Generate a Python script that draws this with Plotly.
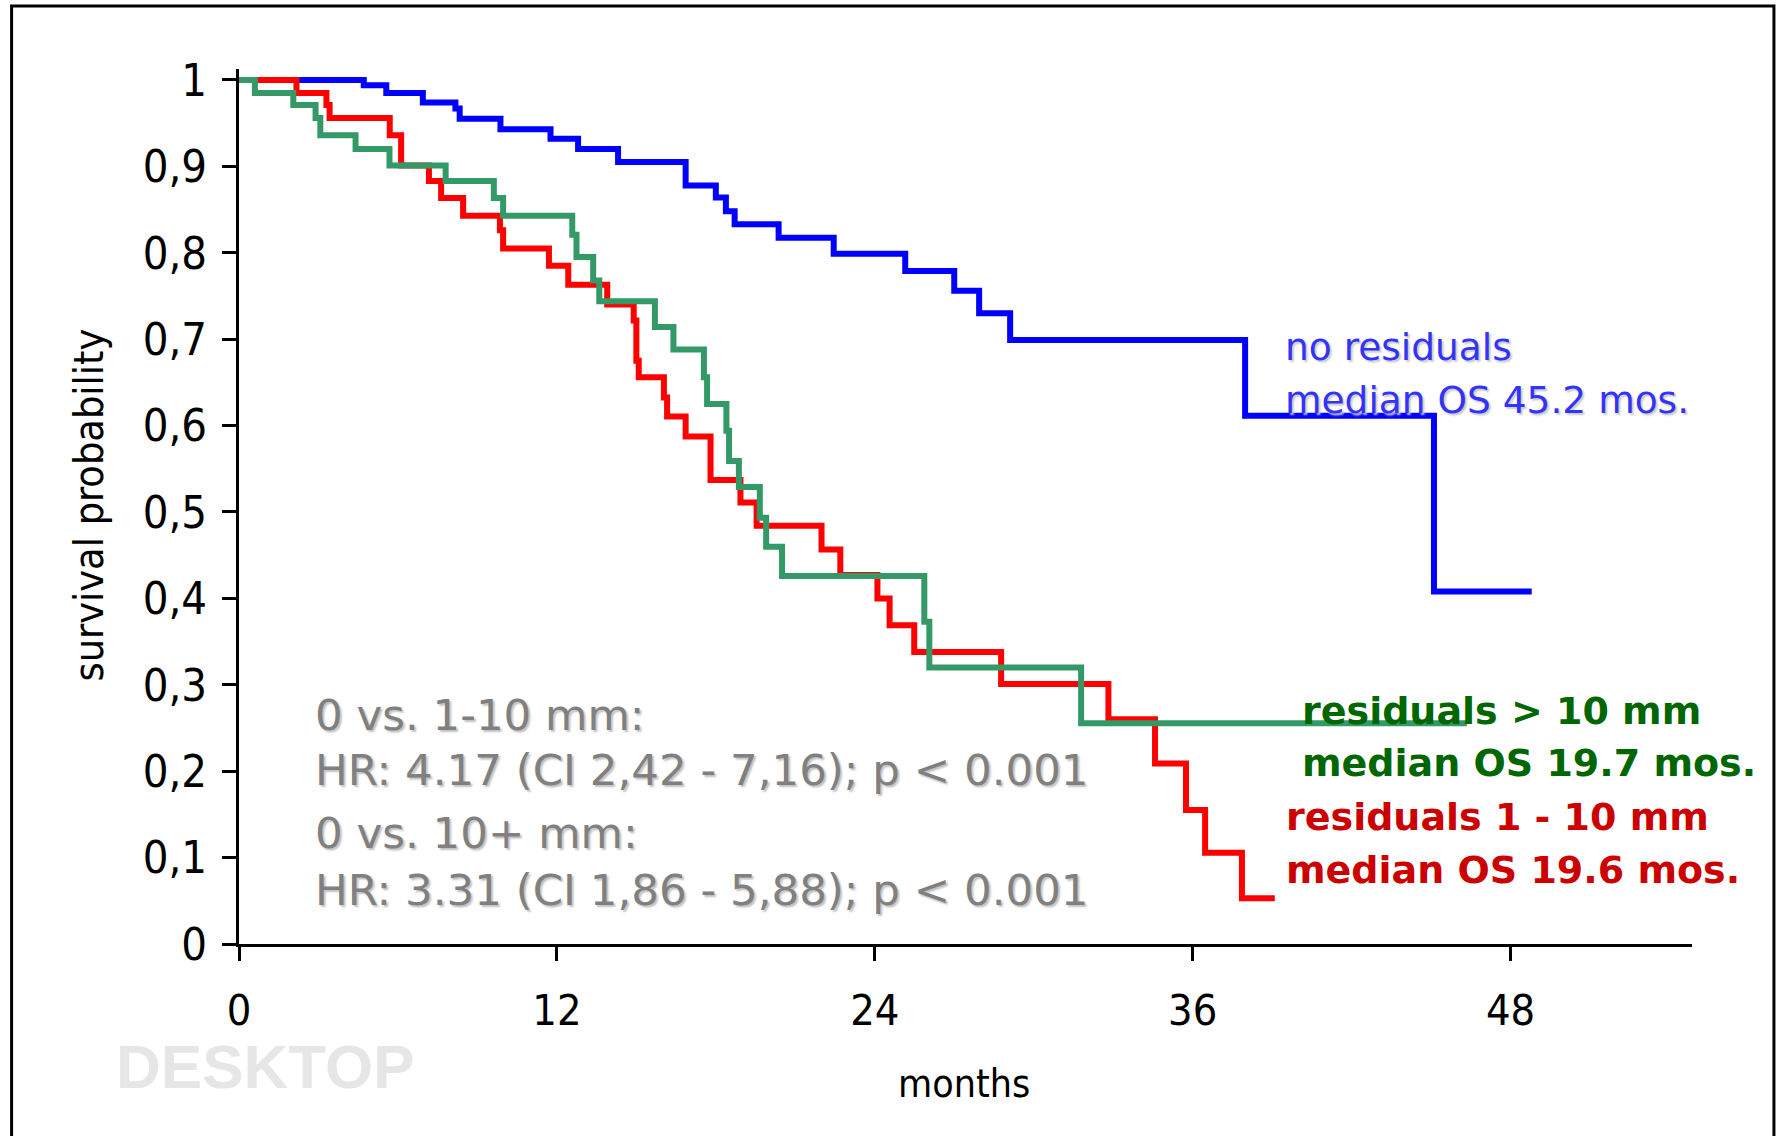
import plotly.graph_objects as go

# ---------------- data ----------------
months_none = [0, 4.71, 5.56, 6.94, 8.17, 8.33, 9.87, 11.76, 12.8, 14.31, 16.86, 18.0, 18.38, 18.71,
               20.37, 22.45, 25.15, 27.0, 27.94, 29.11, 37.98, 45.11, 48.8]
surv_none = [1.0, 0.994, 0.985, 0.974, 0.967, 0.955, 0.943, 0.932, 0.920, 0.905, 0.878, 0.864, 0.848, 0.833,
             0.8175, 0.799, 0.779, 0.756, 0.730, 0.699, 0.6115, 0.408, 0.408]

months_1_10 = [0, 2.17, 3.30, 3.42, 5.69, 6.12, 7.17, 7.63, 8.46, 9.85, 9.97, 11.7, 12.43, 13.9, 14.9,
               15.0, 15.09, 16.04, 16.16, 16.86, 17.8, 18.93, 19.54, 21.99, 22.7, 24.1, 24.56, 25.49,
               28.77, 32.82, 34.58, 35.75, 36.47, 37.86, 39.1]
surv_1_10 = [1.0, 0.985, 0.971, 0.956, 0.936, 0.901, 0.883, 0.8635, 0.843, 0.826, 0.805, 0.785, 0.763, 0.740,
             0.7216, 0.675, 0.656, 0.6326, 0.6106, 0.5874, 0.537, 0.511, 0.484, 0.4567, 0.427, 0.400, 0.369,
             0.338, 0.301, 0.260, 0.209, 0.155, 0.1057, 0.053, 0.053]

months_10p = [0, 0.6, 2.05, 2.89, 3.07, 4.4, 5.68, 7.8, 9.62, 9.97, 12.58, 12.74, 13.37, 13.6, 15.7, 16.4,
              17.55, 17.67, 18.4, 18.5, 18.87, 19.66, 19.9, 20.5, 25.87, 26.06, 31.79, 46.35]
surv_10p = [1.0, 0.985, 0.971, 0.956, 0.936, 0.920, 0.901, 0.883, 0.8635, 0.843, 0.821, 0.795, 0.768, 0.744,
            0.714, 0.688, 0.656, 0.625, 0.594, 0.559, 0.529, 0.4934, 0.4597, 0.4258, 0.373, 0.320, 0.2554,
            0.2554]

x_ticks = [0, 12, 24, 36, 48]
y_ticks = [0, 0.1, 0.2, 0.3, 0.4, 0.5, 0.6, 0.7, 0.8, 0.9, 1]
y_tick_labels = ["0", "0,1", "0,2", "0,3", "0,4", "0,5", "0,6", "0,7", "0,8", "0,9", "1"]

# ---------------- layout geometry (pixels) ----------------
W, H = 1783, 1136
X0_PX, PX_PER_MONTH = 238.5, 26.5
Y0_PX, PX_PER_UNIT = 944.0, 864.0
X_MAX = 54.85
Y_MAX = 1.0127
plot_w = X_MAX * PX_PER_MONTH
plot_h = Y_MAX * PX_PER_UNIT


def pxp(px):
    return (px - X0_PX) / plot_w


def pyp(py):
    return (Y0_PX - py) / plot_h


NARROW = "Liberation Sans Narrow, DejaVu Sans Condensed, Arial Narrow, sans-serif"
SANS = "DejaVu Sans, Verdana, sans-serif"

fig = go.Figure()
fig.add_trace(go.Scatter(x=months_none, y=surv_none, mode="lines", line=dict(shape="hv", color="#0000FF", width=6),
                         name="no residuals", hoverinfo="x+y"))
fig.add_trace(go.Scatter(x=months_1_10, y=surv_1_10, mode="lines", line=dict(shape="hv", color="#FF0000", width=6),
                         name="residuals 1 - 10 mm", hoverinfo="x+y"))
fig.add_trace(go.Scatter(x=months_10p, y=surv_10p, mode="lines", line=dict(shape="hv", color="#339966", width=6),
                         name="residuals > 10 mm", hoverinfo="x+y"))

annotations = []


def add_text(text, px, py, size, color, family=SANS, weight="normal", shadow=None, xanchor="left", angle=0):
    f = dict(size=size, color=color, family=family, weight=weight)
    if shadow:
        f["shadow"] = shadow
    annotations.append(dict(text=text, x=pxp(px), y=pyp(py), xref="paper", yref="paper", xanchor=xanchor,
                            yanchor="middle", showarrow=False, font=f, textangle=angle))


blue_shadow = "2px 2px 2px #c8c8c8"
grey_shadow = "2px 2px 2px #c0c0c0"
add_text("no residuals", 1283, 347, 37.5, "#3333FF", shadow=blue_shadow)
add_text("median OS 45.2 mos.", 1283, 400, 37.5, "#3333FF", shadow=blue_shadow)

add_text("0 vs. 1-10 mm:", 313, 715, 43.5, "#808080", shadow=grey_shadow)
add_text("HR: 4.17 (CI 2,42 - 7,16); p &lt; 0.001", 313, 770, 43.5, "#808080", shadow=grey_shadow)
add_text("0 vs. 10+ mm:", 313, 833, 43.5, "#808080", shadow=grey_shadow)
add_text("HR: 3.31 (CI 1,86 - 5,88); p &lt; 0.001", 313, 890, 43.5, "#808080", shadow=grey_shadow)

add_text("residuals &gt; 10 mm", 1300, 711, 38, "#006600", weight="bold")
add_text("median OS 19.7 mos.", 1300, 763, 38, "#006600", weight="bold")
add_text("residuals 1 - 10 mm", 1284, 817, 38, "#CC0000", weight="bold")
add_text("median OS 19.6 mos.", 1284, 870, 38, "#CC0000", weight="bold")

add_text("survival probability", 88, 505, 41, "#000000", family=NARROW, xanchor="center", angle=-90)
add_text("months", 964, 1083, 39, "#000000", family=NARROW, xanchor="center")
add_text("DESKTOP", 265, 1066, 62, "#E6E6E6", family="Liberation Sans, Arial, sans-serif", weight="bold",
         xanchor="center")

fig.update_layout(
    width=W, height=H, autosize=False,
    margin=dict(l=X0_PX, r=W - X0_PX - plot_w, t=Y0_PX - plot_h, b=H - Y0_PX, pad=0),
    paper_bgcolor="white", plot_bgcolor="white",
    showlegend=False,
    annotations=annotations,
    shapes=[dict(type="rect", xref="paper", yref="paper", x0=pxp(11), x1=pxp(1774), y0=pyp(1150), y1=pyp(6),
                 line=dict(color="black", width=3), fillcolor="rgba(0,0,0,0)", layer="below")],
    xaxis=dict(range=[0, X_MAX], tickmode="array", tickvals=x_ticks, ticktext=[str(t) for t in x_ticks],
               showgrid=False, zeroline=False, showline=True, linecolor="black", linewidth=3,
               ticks="outside", ticklen=14, tickwidth=3, tickcolor="black",
               tickfont=dict(family=NARROW, size=43, color="black"), ticklabelstandoff=12),
    yaxis=dict(range=[0, Y_MAX], tickmode="array", tickvals=y_ticks, ticktext=y_tick_labels,
               showgrid=False, zeroline=False, showline=True, linecolor="black", linewidth=3,
               ticks="outside", ticklen=14, tickwidth=3, tickcolor="black",
               tickfont=dict(family=NARROW, size=45, color="black"), ticklabelstandoff=6),
)

fig.write_html("out.html", config={"displayModeBar": False},
               post_script="document.body.style.margin='0';document.body.style.overflow='hidden';")
